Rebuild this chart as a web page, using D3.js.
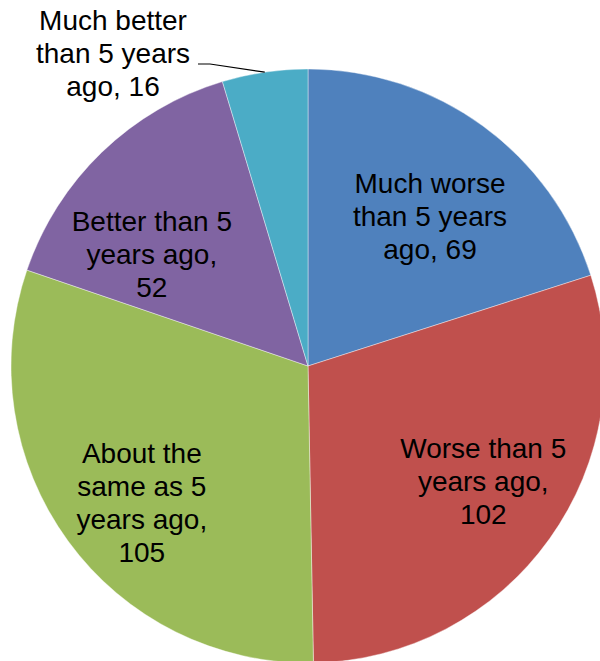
<!DOCTYPE html>
<html>
<head>
<meta charset="utf-8">
<script src="https://cdn.jsdelivr.net/npm/d3@7"></script>
<style>
  html, body { margin: 0; padding: 0; background: #fff; }
  svg { display: block; }
  text { font-family: "Liberation Sans", Arial, sans-serif; fill: #000; }
</style>
</head>
<body>
<div id="chart"></div>
<script>
// Data
var categories = [
  "Much worse than 5 years ago",
  "Worse than 5 years ago",
  "About the same as 5 years ago",
  "Better than 5 years ago",
  "Much better than 5 years ago"
];
var counts = [69, 102, 105, 52, 16];
var labelLines = [
  ["Much worse", "than 5 years", "ago, 69"],
  ["Worse than 5", "years ago,", "102"],
  ["About the", "same as 5", "years ago,", "105"],
  ["Better than 5", "years ago,", "52"],
  ["Much better", "than 5 years", "ago, 16"]
];
var colors = ["#4F81BD", "#C0504D", "#9BBB59", "#8064A2", "#4BACC6"];

var width = 600, height = 661;
var cx = 308, cy = 366, radius = 297;
var lineHeight = 33;

// small nudges so labels sit where the original put them
var labelNudge = [[3, 13], [11, -3], [-3, 17], [-16, 33], [0, 0]];

var svg = d3.select("#chart")
  .append("svg")
  .attr("width", width)
  .attr("height", height);

var g = svg.append("g").attr("transform", "translate(" + cx + "," + cy + ")");

var pie = d3.pie().sort(null).value(function (d) { return d; });
var arcs = pie(counts);

var color = d3.scaleOrdinal().domain(categories).range(colors);

var arc = d3.arc().innerRadius(0).outerRadius(radius);
var labelArc = d3.arc().innerRadius(radius * 0.68).outerRadius(radius * 0.68);
var edgeArc = d3.arc().innerRadius(radius).outerRadius(radius);

g.selectAll("path.slice")
  .data(arcs)
  .enter()
  .append("path")
  .attr("class", "slice")
  .attr("d", arc)
  .attr("fill", function (d, i) { return color(categories[i]); })
  .attr("stroke", "rgba(255,255,255,0.5)")
  .attr("stroke-width", 0.8);

function drawLabel(lines, x, y) {
  var t = g.append("text")
    .attr("text-anchor", "middle")
    .style("font-size", "28px");
  var first = y - (lines.length - 1) * lineHeight / 2 + 10;
  lines.forEach(function (s, k) {
    t.append("tspan")
      .attr("x", x)
      .attr("y", first + k * lineHeight)
      .text(s);
  });
}

// Labels inside the slices
arcs.forEach(function (d, i) {
  if (i === 4) return;
  var c = labelArc.centroid(d);
  drawLabel(labelLines[i], c[0] + labelNudge[i][0], c[1] + labelNudge[i][1]);
});

// Small slice: label outside with a leader line
var small = arcs[4];
var edge = edgeArc.centroid(small);
var lx = 113 - cx, ly = 63 - cy;
g.append("polyline")
  .attr("points", [
    [lx + 85, ly + 1],
    [lx + 97, ly + 1],
    edge
  ].map(function (p) { return p.join(","); }).join(" "))
  .attr("fill", "none")
  .attr("stroke", "#000")
  .attr("stroke-width", 1.2);
drawLabel(labelLines[4], lx, ly - 10);
</script>
</body>
</html>
